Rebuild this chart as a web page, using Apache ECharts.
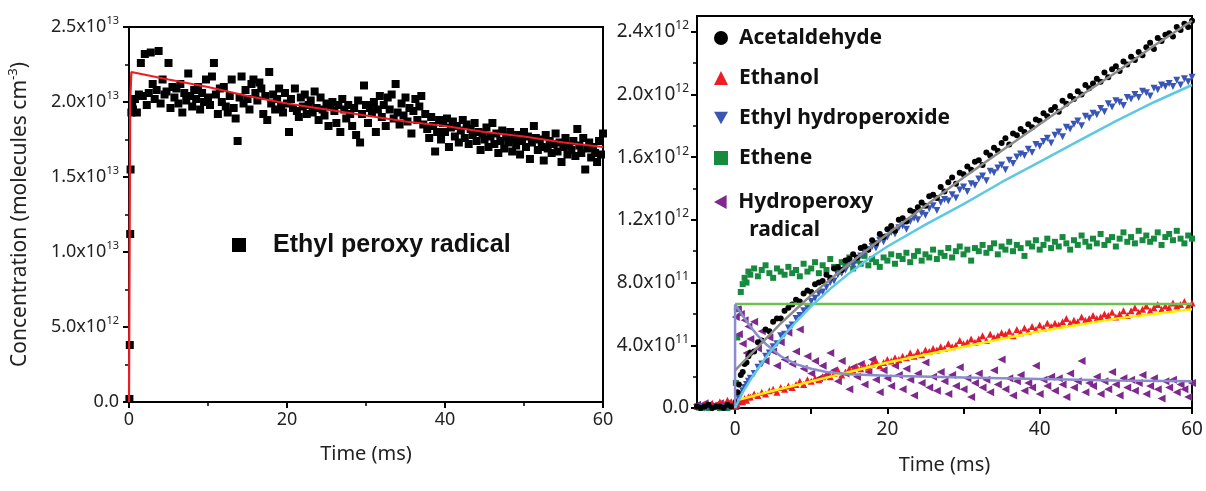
<!DOCTYPE html>
<html>
<head>
<meta charset="utf-8">
<script src="https://cdn.jsdelivr.net/npm/echarts@6/dist/echarts.min.js"></script>
<style>
html,body{margin:0;padding:0;background:#fff;}
#chart{width:1206px;height:491px;}
</style>
</head>
<body>
<div id="chart"></div>
<script>
// ---------------- DATA ----------------
// Left panel: ethyl peroxy radical, values in units of 1e13 molecules cm^-3
const peroxyTimes = [0.05,0.1,0.15,0.2,0.3,0.4,
 0.5,0.75,1,1.25,1.5,1.75,2,2.25,2.5,2.75,3,3.25,3.5,3.75,4,4.25,4.5,4.75,
 5,5.25,5.5,5.75,6,6.25,6.5,6.75,7,7.25,7.5,7.75,8,8.25,8.5,8.75,9,9.25,9.5,9.75,
 10,10.25,10.5,10.75,11,11.25,11.5,11.75,12,12.25,12.5,12.75,13,13.25,13.5,13.75,14,14.25,14.5,14.75,
 15,15.25,15.5,15.75,16,16.25,16.5,16.75,17,17.25,17.5,17.75,18,18.25,18.5,18.75,19,19.25,19.5,19.75,
 20,20.25,20.5,20.75,21,21.25,21.5,21.75,22,22.25,22.5,22.75,23,23.25,23.5,23.75,24,24.25,24.5,24.75,
 25,25.25,25.5,25.75,26,26.25,26.5,26.75,27,27.25,27.5,27.75,28,28.25,28.5,28.75,29,29.25,29.5,29.75,
 30,30.25,30.5,30.75,31,31.25,31.5,31.75,32,32.25,32.5,32.75,33,33.25,33.5,33.75,34,34.25,34.5,34.75,
 35,35.25,35.5,35.75,36,36.25,36.5,36.75,37,37.25,37.5,37.75,38,38.25,38.5,38.75,39,39.25,39.5,39.75,
 40,40.25,40.5,40.75,41,41.25,41.5,41.75,42,42.25,42.5,42.75,43,43.25,43.5,43.75,44,44.25,44.5,44.75,
 45,45.25,45.5,45.75,46,46.25,46.5,46.75,47,47.25,47.5,47.75,48,48.25,48.5,48.75,49,49.25,49.5,49.75,
 50,50.25,50.5,50.75,51,51.25,51.5,51.75,52,52.25,52.5,52.75,53,53.25,53.5,53.75,54,54.25,54.5,54.75,
 55,55.25,55.5,55.75,56,56.25,56.5,56.75,57,57.25,57.5,57.75,58,58.25,58.5,58.75,59,59.25,59.5,59.75,
 60];
const peroxyValues = [0.02,0.38,1.12,1.55,1.93,2.00,
 1.95,2.02,1.93,2.05,2.26,2.04,2.32,1.98,2.06,2.33,2.12,2.02,2.08,2.34,1.99,2.15,2.05,2.07,
 2.26,1.96,2.10,2.03,2.09,1.99,2.12,1.93,2.06,2.01,2.19,2.04,1.97,2.08,2.02,2.10,1.95,2.06,2.00,2.15,
 2.03,1.98,2.17,2.26,2.05,1.92,2.09,2.00,2.10,1.97,1.93,2.04,2.15,1.96,1.89,1.74,2.03,2.17,1.99,2.08,
 2.02,1.95,2.12,2.15,2.06,2.01,2.13,2.09,1.92,2.04,1.88,2.20,1.99,2.05,1.95,2.02,2.09,1.97,1.93,2.06,
 1.99,1.80,2.02,1.96,2.09,1.94,1.90,2.03,1.97,2.05,1.92,1.98,2.01,1.93,2.07,1.96,1.88,2.03,1.95,1.91,
 1.99,1.84,1.97,2.00,1.94,1.86,1.98,1.80,2.02,1.95,1.89,1.98,1.92,1.84,1.96,1.78,2.01,1.73,1.92,2.11,
 1.98,1.86,1.96,1.93,2.00,1.80,1.95,2.04,1.90,1.98,1.84,2.03,1.95,2.05,1.89,2.12,1.93,1.85,1.99,1.91,
 2.03,1.87,1.96,1.79,1.94,2.02,1.88,1.97,2.04,1.85,1.92,1.82,1.76,1.90,1.84,1.67,1.80,1.88,1.75,1.86,
 1.80,1.89,1.70,1.83,1.87,1.77,1.84,1.73,1.81,1.88,1.76,1.85,1.72,1.82,1.78,1.86,1.74,1.80,1.68,1.79,
 1.75,1.83,1.70,1.77,1.86,1.72,1.79,1.66,1.74,1.81,1.69,1.77,1.73,1.80,1.67,1.75,1.71,1.78,1.65,1.74,
 1.80,1.70,1.77,1.62,1.73,1.84,1.76,1.68,1.75,1.70,1.61,1.78,1.69,1.74,1.66,1.72,1.79,1.67,1.73,1.60,
 1.70,1.76,1.65,1.71,1.68,1.74,1.64,1.82,1.71,1.66,1.76,1.55,1.69,1.73,1.63,1.70,1.66,1.60,1.74,1.65,
 1.79];
const peroxyFit = [[0,0],[0.15,2.0],[0.3,2.2],[5,2.15],[10,2.10],[15,2.04],[20,1.99],[25,1.95],[30,1.91],[35,1.87],[40,1.84],[45,1.80],[50,1.77],[55,1.73],[60,1.70]];

// Right panel: values in units of 1e12 molecules cm^-3
const rightTimes = [-5,-4.5,-4,-3.5,-3,-2.5,-2,-1.5,-1,-0.5,
 0.1,0.3,0.5,0.75,1,1.25,1.5,1.75,
 2,2.5,3,3.5,4,4.5,5,5.5,6,6.5,
 7,7.5,8,8.5,9,9.5,10,10.5,11,11.5,
 12,12.5,13,13.5,14,14.5,15,15.5,16,16.5,
 17,17.5,18,18.5,19,19.5,20,20.5,21,21.5,
 22,22.5,23,23.5,24,24.5,25,25.5,26,26.5,
 27,27.5,28,28.5,29,29.5,30,30.5,31,31.5,
 32,32.5,33,33.5,34,34.5,35,35.5,36,36.5,
 37,37.5,38,38.5,39,39.5,40,40.5,41,41.5,
 42,42.5,43,43.5,44,44.5,45,45.5,46,46.5,
 47,47.5,48,48.5,49,49.5,50,50.5,51,51.5,
 52,52.5,53,53.5,54,54.5,55,55.5,56,56.5,
 57,57.5,58,58.5,59,59.5,60];
const acetaldehyde = [0.01,0.00,0.01,0.02,0.00,0.01,0.01,0.00,0.02,0.01,
 0.04,0.10,0.15,0.21,0.23,0.28,0.29,0.33,
 0.35,0.36,0.42,0.43,0.50,0.49,0.55,0.57,0.57,0.62,
 0.64,0.66,0.69,0.68,0.73,0.75,0.74,0.79,0.80,0.81,
 0.85,0.83,0.89,0.90,0.88,0.94,0.95,0.98,0.96,1.02,
 1.03,1.01,1.07,1.05,1.11,1.09,1.14,1.16,1.13,1.20,
 1.21,1.19,1.26,1.25,1.28,1.31,1.29,1.35,1.36,1.34,
 1.41,1.38,1.44,1.47,1.43,1.50,1.49,1.54,1.52,1.57,
 1.58,1.55,1.63,1.61,1.66,1.64,1.69,1.72,1.68,1.75,
 1.74,1.78,1.76,1.81,1.79,1.84,1.83,1.88,1.86,1.90,
 1.92,1.89,1.96,1.94,1.99,1.97,2.02,2.00,2.06,2.04,
 2.07,2.10,2.08,2.14,2.11,2.16,2.18,2.15,2.21,2.19,
 2.24,2.22,2.27,2.25,2.30,2.33,2.29,2.36,2.34,2.38,
 2.39,2.37,2.43,2.41,2.45,2.43,2.47];
const ethanol = [0.01,0.01,0.02,0.01,0.03,0.02,0.04,0.03,0.05,0.04,
 0.01,0.02,0.04,0.05,0.04,0.06,0.05,0.07,
 0.07,0.09,0.08,0.10,0.09,0.11,0.12,0.10,0.13,0.12,
 0.14,0.13,0.15,0.17,0.15,0.18,0.17,0.19,0.18,0.20,
 0.21,0.20,0.22,0.24,0.21,0.23,0.25,0.24,0.26,0.25,
 0.27,0.26,0.28,0.30,0.27,0.29,0.31,0.30,0.32,0.31,
 0.33,0.32,0.35,0.33,0.36,0.34,0.37,0.36,0.38,0.37,
 0.39,0.38,0.41,0.39,0.40,0.43,0.41,0.42,0.44,0.42,
 0.44,0.46,0.43,0.47,0.45,0.46,0.48,0.47,0.49,0.46,
 0.50,0.48,0.51,0.49,0.52,0.50,0.53,0.51,0.54,0.52,
 0.54,0.53,0.55,0.57,0.54,0.56,0.55,0.58,0.56,0.57,
 0.59,0.57,0.58,0.60,0.59,0.61,0.58,0.60,0.62,0.59,
 0.62,0.64,0.61,0.63,0.65,0.62,0.64,0.66,0.63,0.65,
 0.64,0.67,0.65,0.66,0.68,0.65,0.67];
const ethylHydroperoxide = [0.00,0.01,0.00,0.01,0.00,0.01,0.00,0.01,0.00,0.01,
 0.01,0.04,0.06,0.09,0.11,0.13,0.15,0.17,
 0.19,0.22,0.26,0.28,0.33,0.35,0.39,0.41,0.46,0.47,
 0.51,0.53,0.57,0.59,0.62,0.64,0.68,0.70,0.73,0.74,
 0.77,0.80,0.81,0.85,0.86,0.88,0.92,0.91,0.95,0.97,
 0.99,1.01,1.03,1.02,1.07,1.06,1.09,1.12,1.11,1.15,
 1.16,1.14,1.19,1.21,1.20,1.24,1.23,1.27,1.29,1.26,
 1.31,1.33,1.32,1.36,1.34,1.39,1.41,1.38,1.43,1.42,
 1.46,1.48,1.45,1.51,1.50,1.53,1.55,1.52,1.58,1.56,
 1.60,1.62,1.61,1.65,1.63,1.68,1.67,1.70,1.72,1.69,
 1.74,1.76,1.73,1.79,1.78,1.81,1.83,1.80,1.86,1.85,
 1.88,1.87,1.91,1.89,1.94,1.92,1.96,1.95,1.93,1.98,
 1.97,2.00,1.98,2.02,2.01,1.99,2.04,2.03,2.06,2.05,
 2.07,2.05,2.09,2.06,2.10,2.08,2.11];
const ethene = [0.01,0.00,0.01,0.00,0.01,0.01,0.00,0.01,0.00,0.01,
 0.16,0.45,0.63,0.74,0.79,0.83,0.80,0.87,
 0.85,0.89,0.84,0.88,0.91,0.86,0.83,0.89,0.87,0.85,
 0.90,0.86,0.88,0.84,0.92,0.87,0.89,0.93,0.86,0.91,
 0.88,0.95,0.90,0.87,0.93,0.91,0.96,0.89,0.94,0.92,
 0.97,0.91,0.95,0.93,0.90,0.96,0.94,0.98,0.92,0.97,
 0.95,0.99,0.93,0.97,1.00,0.94,0.98,0.96,1.01,0.95,
 0.99,0.97,1.02,0.96,1.00,1.03,0.98,1.01,0.94,1.02,
 1.00,1.04,0.99,1.02,1.05,0.98,1.03,1.01,1.06,1.00,
 1.04,1.02,0.97,1.05,1.03,1.07,1.01,1.04,1.08,1.02,
 1.06,1.03,1.09,1.05,1.01,1.07,1.04,1.10,1.06,1.03,
 1.08,1.05,1.11,1.04,1.07,1.09,1.03,1.08,1.12,1.06,
 1.09,1.05,1.13,1.07,1.10,1.06,1.08,1.12,1.04,1.09,
 1.11,1.07,1.13,1.08,1.05,1.10,1.08];
const hydroperoxy = [0.02,0.01,0.03,0.02,0.01,0.02,0.03,0.02,0.03,0.02,
 0.58,0.63,0.47,0.60,0.41,0.56,0.35,0.52,
 0.44,0.55,0.38,0.49,0.30,0.45,0.36,0.27,0.42,0.31,
 0.48,0.28,0.36,0.50,0.25,0.33,0.22,0.30,0.19,0.27,
 0.21,0.35,0.24,0.17,0.30,0.22,0.12,0.26,0.20,0.28,
 0.15,0.23,0.31,0.18,0.10,0.24,0.19,0.14,0.27,0.21,
 0.12,0.25,0.18,0.08,0.22,0.16,0.29,0.13,0.20,0.11,
 0.23,0.17,0.09,0.21,0.14,0.26,0.12,0.19,0.07,0.16,
 0.22,0.13,0.18,0.10,0.24,0.15,0.31,0.12,0.19,0.08,
 0.17,0.21,0.11,0.16,0.13,0.27,0.09,0.18,0.14,0.20,
 0.11,0.19,0.15,0.07,0.22,0.13,0.17,0.30,0.10,0.16,
 0.14,0.20,0.09,0.17,0.12,0.23,0.15,0.08,0.19,0.13,
 0.18,0.11,0.16,0.21,0.09,0.14,0.19,0.12,0.06,0.17,
 0.13,0.18,0.10,0.15,0.12,0.07,0.16];
// model fits
const acetaldehydeFit = [[0,0.24],[2,0.34],[4,0.44],[6,0.54],[8,0.63],[10,0.72],[15,0.92],[20,1.11],[25,1.29],[30,1.47],[35,1.64],[40,1.81],[45,1.98],[50,2.14],[55,2.31],[60,2.47]];
const hydroperoxideFit = [[0,0],[0.5,0.05],[1,0.10],[2,0.18],[3,0.25],[4,0.32],[6,0.44],[8,0.55],[10,0.65],[12.5,0.76],[15,0.86],[17.5,0.95],[20,1.03],[25,1.17],[30,1.30],[35,1.44],[40,1.57],[45,1.70],[50,1.83],[55,1.95],[60,2.06]];
const ethanolFit = [[0.3,0.05],[5,0.11],[10,0.17],[15,0.23],[20,0.29],[25,0.34],[30,0.39],[35,0.44],[40,0.49],[45,0.53],[50,0.57],[55,0.60],[60,0.63]];
const etheneFit = [[0,0.664],[60,0.664]];
const hydroperoxyFit = [[0,0],[0,0.66],[1,0.59],[2,0.52],[3,0.46],[4,0.41],[5,0.37],[6,0.33],[8,0.28],[10,0.25],[12,0.23],[15,0.215],[20,0.205],[30,0.195],[40,0.185],[50,0.175],[60,0.17]];

const leftXTicks = [0,20,40,60];
const rightXLabels = [0,20,40,60];
const rightXTicks = [0,10,20,30,40,50,60];
const rightYTicks = [0,0.4,0.8,1.2,1.6,2.0,2.4];
const rightYMinor = [0.2,0.6,1.0,1.4,1.8,2.2];

// ---------------- BUILD ----------------
function pairs(times, vals, name) {
  if (times.length !== vals.length) throw new Error('length mismatch ' + name + ' ' + times.length + ' vs ' + vals.length);
  return times.map((t, i) => [t, vals[i]]);
}
const FONT = 'Noto Sans';
const TXT = '#222';
const richTick = {
  m: {fontFamily: FONT, fontSize: 18, color: TXT, lineHeight: 24},
  s: {fontFamily: FONT, fontSize: 11, color: TXT, lineHeight: 11, verticalAlign: 'top'}
};
const richTickR = {
  m: {fontFamily: FONT, fontSize: 19, color: TXT, lineHeight: 24},
  s: {fontFamily: FONT, fontSize: 12, color: TXT, lineHeight: 11, verticalAlign: 'top'}
};
function fmtLeft(v) {
  if (Math.abs(v) < 1e-9) return '{m|0.0}';
  if (v < 1 - 1e-9) return '{m|' + (v * 10).toFixed(1) + 'x10}{s|12}';
  return '{m|' + v.toFixed(1) + 'x10}{s|13}';
}
function fmtRight(v) {
  if (Math.abs(v) < 1e-9) return '{m|0.0}';
  if (v < 1 - 1e-9) return '{m|' + (v * 10).toFixed(1) + 'x10}{s|11}';
  return '{m|' + v.toFixed(1) + 'x10}{s|12}';
}
const axLine = {show: true, onZero: false, lineStyle: {color: '#000', width: 2}};
const tick = {show: true, inside: false, length: 6, lineStyle: {color: '#000', width: 2}};
const minor = {show: true, splitNumber: 2, length: 4, lineStyle: {color: '#000', width: 1.5}};
const nameStyle = {fontFamily: FONT, fontSize: 20, color: TXT};
const legendText = {fontFamily: FONT, fontWeight: 'bold', fontSize: 21, color: '#111'};

const chart = echarts.init(document.getElementById('chart'), null, {renderer: 'canvas'});
const option = {
  animation: false,
  backgroundColor: '#fff',
  grid: [
    {left: 129, top: 27, width: 474, height: 375, show: true, borderColor: '#000', borderWidth: 2, containLabel: false, outerBoundsMode: 'none'},
    {left: 697, top: 16, width: 495, height: 392, show: true, borderColor: '#000', borderWidth: 2, containLabel: false, outerBoundsMode: 'none'}
  ],
  xAxis: [
    {gridIndex: 0, type: 'value', min: 0, max: 60, interval: 20,
     axisLine: axLine, axisTick: tick, minorTick: minor, splitLine: {show: false},
     axisLabel: {margin: 9, fontFamily: FONT, fontSize: 18, color: TXT, formatter: v => leftXTicks.includes(v) ? String(v) : ''},
     name: 'Time (ms)', nameLocation: 'middle', nameGap: 42, nameTextStyle: nameStyle},
    {gridIndex: 1, type: 'value', min: -5, max: 60,
     axisLine: axLine,
     axisTick: Object.assign({}, tick, {customValues: rightXTicks}),
     splitLine: {show: false},
     axisLabel: {customValues: rightXLabels, margin: 12, fontFamily: FONT, fontSize: 19, color: TXT},
     name: 'Time (ms)', nameLocation: 'middle', nameGap: 47, nameTextStyle: nameStyle}
  ],
  yAxis: [
    {gridIndex: 0, type: 'value', min: 0, max: 2.5, interval: 0.5,
     axisLine: axLine, axisTick: tick, minorTick: minor, splitLine: {show: false},
     axisLabel: {margin: 10, formatter: fmtLeft, rich: richTick},
     name: '{n|Concentration (molecules cm}{s|-3}{n|)}', nameLocation: 'middle', nameGap: 96,
     nameTextStyle: {rich: {n: {fontFamily: FONT, fontSize: 21, color: TXT, lineHeight: 26}, s: {fontFamily: FONT, fontSize: 13, color: TXT, lineHeight: 13, verticalAlign: 'top'}}}},
    {gridIndex: 1, type: 'value', min: 0, max: 2.5, position: 'left',
     axisLine: axLine,
     axisTick: Object.assign({}, tick, {customValues: rightYTicks}),
     splitLine: {show: false},
     axisLabel: {customValues: rightYTicks, margin: 8, formatter: fmtRight, rich: richTickR}},
    {gridIndex: 1, type: 'value', min: 0, max: 2.5, position: 'left',
     axisLine: {show: false, onZero: false},
     axisTick: {show: true, inside: false, length: 4, lineStyle: {color: '#000', width: 1.5}, customValues: rightYMinor},
     splitLine: {show: false},
     axisLabel: {show: false}}
  ],
  legend: [
    {data: ['Ethyl peroxy radical'], left: 227, top: 225, itemWidth: 14, itemHeight: 14, selectedMode: false,
     textStyle: {fontFamily: 'Liberation Sans', fontWeight: 'bold', fontSize: 25, lineHeight: 30, color: '#111', padding: [0, 0, 0, 22]}},
    {data: [
       {name: 'Acetaldehyde', icon: 'circle'},
       {name: 'Ethanol', icon: 'triangle'},
       {name: 'Ethyl hydroperoxide', icon: 'path://M0,0L10,0L5,9Z'},
       {name: 'Ethene', icon: 'rect'}],
     orient: 'vertical', left: 709, top: 21,
     itemWidth: 14, itemHeight: 14, itemGap: 16, selectedMode: false,
     textStyle: Object.assign({lineHeight: 24, padding: [0, 0, 0, 6]}, legendText)},
    {data: [{name: 'Hydroperoxy radical', icon: 'path://M9,0L9,10L0,5Z'}],
     orient: 'vertical', left: 709, top: 155,
     itemWidth: 14, itemHeight: 14, selectedMode: false,
     formatter: () => ' \nHydroperoxy\n  radical',
     textStyle: Object.assign({lineHeight: 28, padding: [0, 0, 0, 6]}, legendText)}
  ],
  series: [
    {name: 'Ethyl peroxy radical', type: 'scatter', xAxisIndex: 0, yAxisIndex: 0, symbol: 'rect', symbolSize: 8,
     itemStyle: {color: '#000', opacity: 1}, data: pairs(peroxyTimes, peroxyValues, 'peroxy')},
    {name: 'peroxyFit', type: 'line', xAxisIndex: 0, yAxisIndex: 0, showSymbol: false, symbol: 'none',
     lineStyle: {color: '#ee1c24', width: 2.2}, data: peroxyFit},

    {name: 'Ethene', type: 'scatter', xAxisIndex: 1, yAxisIndex: 1, symbol: 'rect', symbolSize: 6,
     itemStyle: {color: '#168a3e', opacity: 1}, data: pairs(rightTimes, ethene, 'ethene')},
    {name: 'Hydroperoxy radical', type: 'scatter', xAxisIndex: 1, yAxisIndex: 1, symbol: 'triangle', symbolRotate: 90, symbolSize: 8,
     itemStyle: {color: '#7d2a8c', opacity: 1}, data: pairs(rightTimes, hydroperoxy, 'hydroperoxy')},
    {name: 'Ethanol', type: 'scatter', xAxisIndex: 1, yAxisIndex: 1, symbol: 'triangle', symbolSize: 7,
     itemStyle: {color: '#ee1c24', opacity: 1}, data: pairs(rightTimes, ethanol, 'ethanol')},
    {name: 'Ethyl hydroperoxide', type: 'scatter', xAxisIndex: 1, yAxisIndex: 1, symbol: 'triangle', symbolRotate: 180, symbolSize: 7,
     itemStyle: {color: '#3a56b5', opacity: 1}, data: pairs(rightTimes, ethylHydroperoxide, 'ethylHydroperoxide')},
    {name: 'Acetaldehyde', type: 'scatter', xAxisIndex: 1, yAxisIndex: 1, symbol: 'circle', symbolSize: 6,
     itemStyle: {color: '#000', opacity: 1}, data: pairs(rightTimes, acetaldehyde, 'acetaldehyde')},

    {name: 'etheneFit', type: 'line', xAxisIndex: 1, yAxisIndex: 1, showSymbol: false, symbol: 'none',
     lineStyle: {color: '#6cc24a', width: 2.5}, data: etheneFit},
    {name: 'ethanolFit', type: 'line', xAxisIndex: 1, yAxisIndex: 1, showSymbol: false, symbol: 'none',
     lineStyle: {color: '#fff200', width: 2.5}, data: ethanolFit},
    {name: 'hydroperoxyFit', type: 'line', xAxisIndex: 1, yAxisIndex: 1, showSymbol: false, symbol: 'none',
     lineStyle: {color: '#8a8ccc', width: 2.5}, data: hydroperoxyFit},
    {name: 'hydroperoxideFit', type: 'line', xAxisIndex: 1, yAxisIndex: 1, showSymbol: false, symbol: 'none',
     lineStyle: {color: '#5cc8e2', width: 2.5}, data: hydroperoxideFit},
    {name: 'acetaldehydeFit', type: 'line', xAxisIndex: 1, yAxisIndex: 1, showSymbol: false, symbol: 'none',
     lineStyle: {color: '#8c8c8c', width: 2.5}, data: acetaldehydeFit}
  ]
};
chart.setOption(option);
</script>
</body>
</html>
